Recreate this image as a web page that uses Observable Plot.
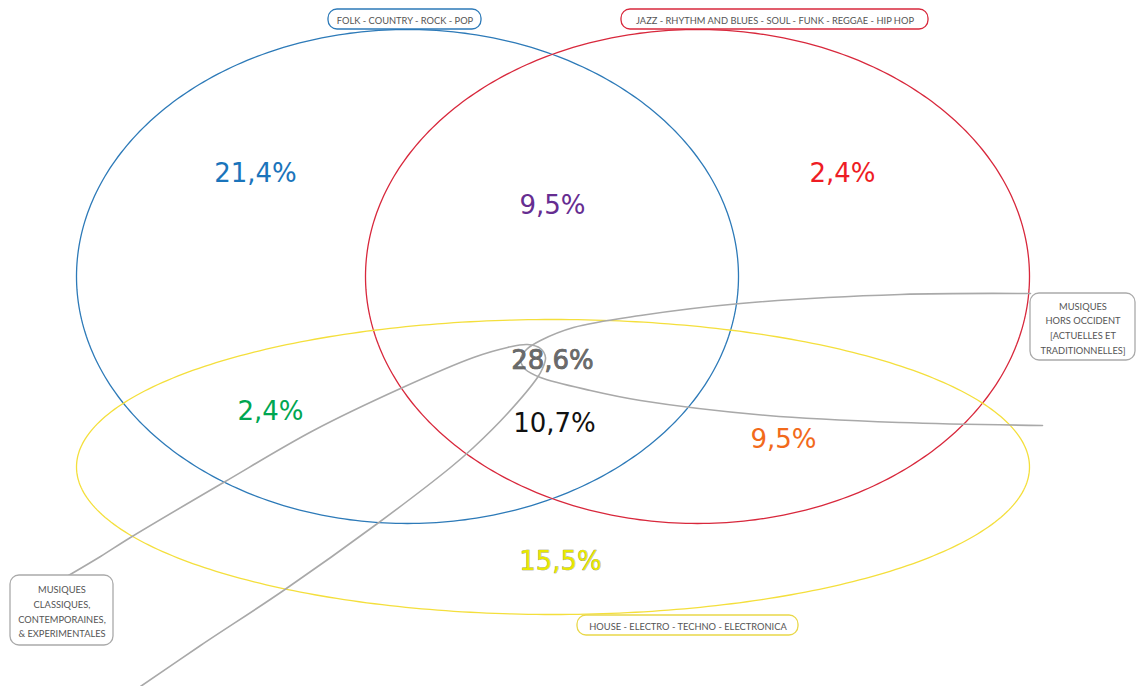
<!DOCTYPE html>
<html>
<head>
<meta charset="utf-8">
<script src="https://cdn.jsdelivr.net/npm/d3@7"></script>
<script src="https://cdn.jsdelivr.net/npm/@observablehq/plot@0.6"></script>
<style>
  html, body { margin: 0; padding: 0; background: #fff; }
  #chart svg { display: block; }
</style>
</head>
<body>
<div id="chart"></div>
<script>
// ---- Data ----
// Main sets (ellipses), in picture coordinates
const setNames = ["FOLK - COUNTRY - ROCK - POP", "JAZZ - RHYTHM AND BLUES - SOUL - FUNK - REGGAE - HIP HOP", "HOUSE - ELECTRO - TECHNO - ELECTRONICA"];
const setCx = [407, 697, 552.5];
const setCy = [276, 276, 466.5];
const setRx = [331, 332, 476.5];
const setRy = [247, 247, 147.5];
const setColors = ["#2d7ab8", "#d8283c", "#f4df3c"];

// Label boxes of the sets
const boxTexts = [
  "FOLK - COUNTRY - ROCK - POP",
  "JAZZ - RHYTHM AND BLUES - SOUL - FUNK - REGGAE - HIP HOP",
  "HOUSE - ELECTRO - TECHNO - ELECTRONICA",
  "MUSIQUES\nHORS OCCIDENT\n[ACTUELLES ET\nTRADITIONNELLES]",
  "MUSIQUES\nCLASSIQUES,\nCONTEMPORAINES,\n& EXPERIMENTALES"
];
const boxX1 = [328, 621, 577, 1030, 10];
const boxX2 = [481, 928, 798, 1135, 113];
const boxY1 = [9, 9, 615, 293, 575];
const boxY2 = [29, 29, 635, 360, 645];
const boxColors = ["#2d7ab8", "#d8283c", "#e9d84a", "#aaaaaa", "#aaaaaa"];

// Teardrop-shaped extra sets (gray outlines)
const horsOccidentX = [1030, 900, 740, 640, 573, 540, 526, 520, 525, 540, 590, 640, 767, 900, 1042];
const horsOccidentY = [293, 294, 303, 315, 327, 340, 349, 359, 369, 377, 390, 400, 415, 422, 425];
const classiquesX = [68, 100, 130, 223, 313, 400, 473, 507, 527, 540, 545, 542, 537, 507, 473, 450, 377, 283, 200, 140];
const classiquesY = [575, 556, 537, 482, 430, 388, 357, 347, 344, 348, 357, 368, 377, 413, 447, 467, 523, 590, 645, 686];

// Region percentages
const regionText = ["21,4%", "2,4%", "9,5%", "28,6%", "10,7%", "2,4%", "9,5%", "15,5%"];
const regionX = [255, 842, 552, 552, 554, 270, 783, 560];
const regionY = [173, 173, 205, 360, 423, 411, 439, 561];
const regionFill = ["#1a74bb", "#ee1c24", "#662d91", "#6a6a6a", "#111111", "#00a651", "#f26a1b", "#e8e800"];
const regionStroke = ["none", "none", "none", "#3d3d3d", "none", "none", "none", "#8a8a6a"];

// ---- Build tables ----
const W = 1138, H = 686;
const ellipsePts = [];
setNames.forEach((name, i) => {
  for (let k = 0; k <= 360; k++) {
    const t = k * Math.PI / 180;
    ellipsePts.push({set: name, color: setColors[i], x: setCx[i] + setRx[i] * Math.cos(t), y: setCy[i] + setRy[i] * Math.sin(t)});
  }
});
const grayPts = [
  ...horsOccidentX.map((x, i) => ({set: "hors", x, y: horsOccidentY[i]})),
  ...classiquesX.map((x, i) => ({set: "classiques", x, y: classiquesY[i]}))
];
const boxes = boxTexts.map((t, i) => ({text: t, x1: boxX1[i], x2: boxX2[i], y1: boxY1[i], y2: boxY2[i], cx: (boxX1[i] + boxX2[i]) / 2, cy: (boxY1[i] + boxY2[i]) / 2, color: boxColors[i]}));
const regions = regionText.map((t, i) => ({text: t, x: regionX[i], y: regionY[i], fill: regionFill[i], stroke: regionStroke[i]}));

const chart = Plot.plot({
  width: W,
  height: H,
  margin: 0,
  x: {domain: [0, W], range: [0, W], axis: null},
  y: {domain: [0, H], range: [0, H], axis: null},
  color: {type: "identity"},
  style: {background: "#fff"},
  marks: [
    Plot.line(ellipsePts, {x: "x", y: "y", z: "set", stroke: "color", strokeWidth: 1.3}),
    Plot.line(grayPts, {x: "x", y: "y", z: "set", stroke: "#a9a9a9", strokeWidth: 1.6, curve: "catmull-rom"}),
    Plot.rect(boxes, {x1: "x1", x2: "x2", y1: "y1", y2: "y2", rx: 9, fill: "#fff", stroke: "color", strokeWidth: 1.3}),
    Plot.text(boxes, {x: "cx", y: "cy", text: "text", fill: "#555", fontSize: 9.3, fontFamily: "Lato, 'Open Sans', sans-serif", lineHeight: 1.58, letterSpacing: "0.4px"}),
    Plot.text(regions, {x: "x", y: "y", text: "text", fill: "fill", stroke: "stroke", strokeWidth: 0.6, fontSize: 26, fontFamily: "DejaVu Sans, sans-serif"})
  ]
});
document.getElementById("chart").appendChild(chart);
</script>
</body>
</html>
